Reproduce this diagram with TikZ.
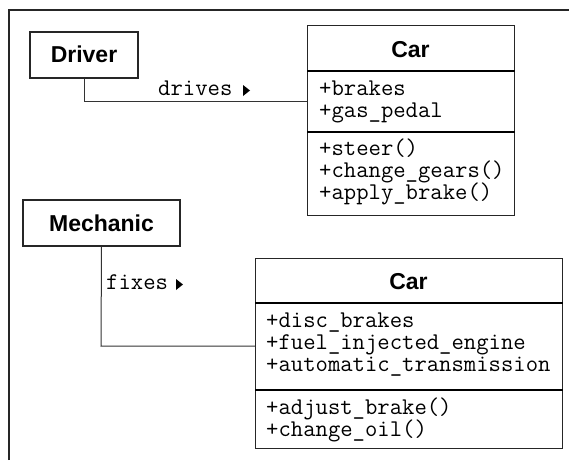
\documentclass[tikz,border=0pt]{standalone}
\usepackage{fontspec}
\newfontfamily\headf{Liberation Sans}
\begin{document}
\begin{tikzpicture}[x=1pt,y=-1pt,
  box/.style={draw=black!85,line width=1.2pt,rectangle,inner sep=0pt},
  divider/.style={draw=black,line width=1.6pt},
  conn/.style={draw=black!80,line width=1pt},
  frameline/.style={draw=black!85,line width=1.8pt},
  head/.style={font=\headf\bfseries\fontsize{23}{23}\selectfont,inner sep=0pt,anchor=base},
  member/.style={font=\ttfamily\fontsize{24}{22}\selectfont,inner sep=0pt,anchor=base west},
  tri/.style={fill=black}]
\useasboundingbox (0,0) rectangle (569,460);
% frame
\draw[frameline] (9,460) -- (9,10) -- (569,10);
% Driver
\node[box,minimum width=108pt,minimum height=46pt] (driver) at (84,55) {};
\node[head] (drivert) at (84,63) {Driver};
% Car 1
\node[box,anchor=north west,minimum width=207pt,minimum height=190pt] (car1) at (307,25) {};
\node[head] (car1t) at (410.5,57) {Car};
\draw[divider] (car1.west |- 0,71) -- (car1.east |- 0,71);
\draw[divider] (car1.west |- 0,132) -- (car1.east |- 0,132);
\node[member] (c1a) at (319,95) {+brakes};
\node[member] (c1b) at (319,117) {+gas\_pedal};
\node[member] (c1c) at (319,155) {+steer()};
\node[member] (c1d) at (319,177) {+change\_gears()};
\node[member] (c1e) at (319,199) {+apply\_brake()};
% connector 1
\coordinate (k1) at (84,101);
\draw[conn] (driver.south) -- (k1) -- (k1 -| car1.west);
\node[member] (drives) at (158,95) {drives};
\fill[tri] (243,85) -- (250,90.5) -- (243,96) -- cycle;
% Mechanic
\node[box,minimum width=157pt,minimum height=46pt] (mech) at (101.5,223) {};
\node[head] (mecht) at (101.5,231) {Mechanic};
% Car 2
\node[box,anchor=north west,minimum width=307pt,minimum height=190pt] (car2) at (255,258) {};
\node[head] (car2t) at (408.5,289) {Car};
\draw[divider] (car2.west |- 0,303) -- (car2.east |- 0,303);
\draw[divider] (car2.west |- 0,390) -- (car2.east |- 0,390);
\node[member] (c2a) at (266,327) {+disc\_brakes};
\node[member] (c2b) at (266,349) {+fuel\_injected\_engine};
\node[member] (c2c) at (266,371) {+automatic\_transmission};
\node[member] (c2d) at (266,414) {+adjust\_brake()};
\node[member] (c2e) at (266,436) {+change\_oil()};
% connector 2
\coordinate (k2) at (101,346);
\draw[conn] (mech.south) -- (k2) -- (k2 -| car2.west);
\node[member] (fixes) at (106,289) {fixes};
\fill[tri] (176,279) -- (183,284.5) -- (176,290) -- cycle;
\end{tikzpicture}
\end{document}
